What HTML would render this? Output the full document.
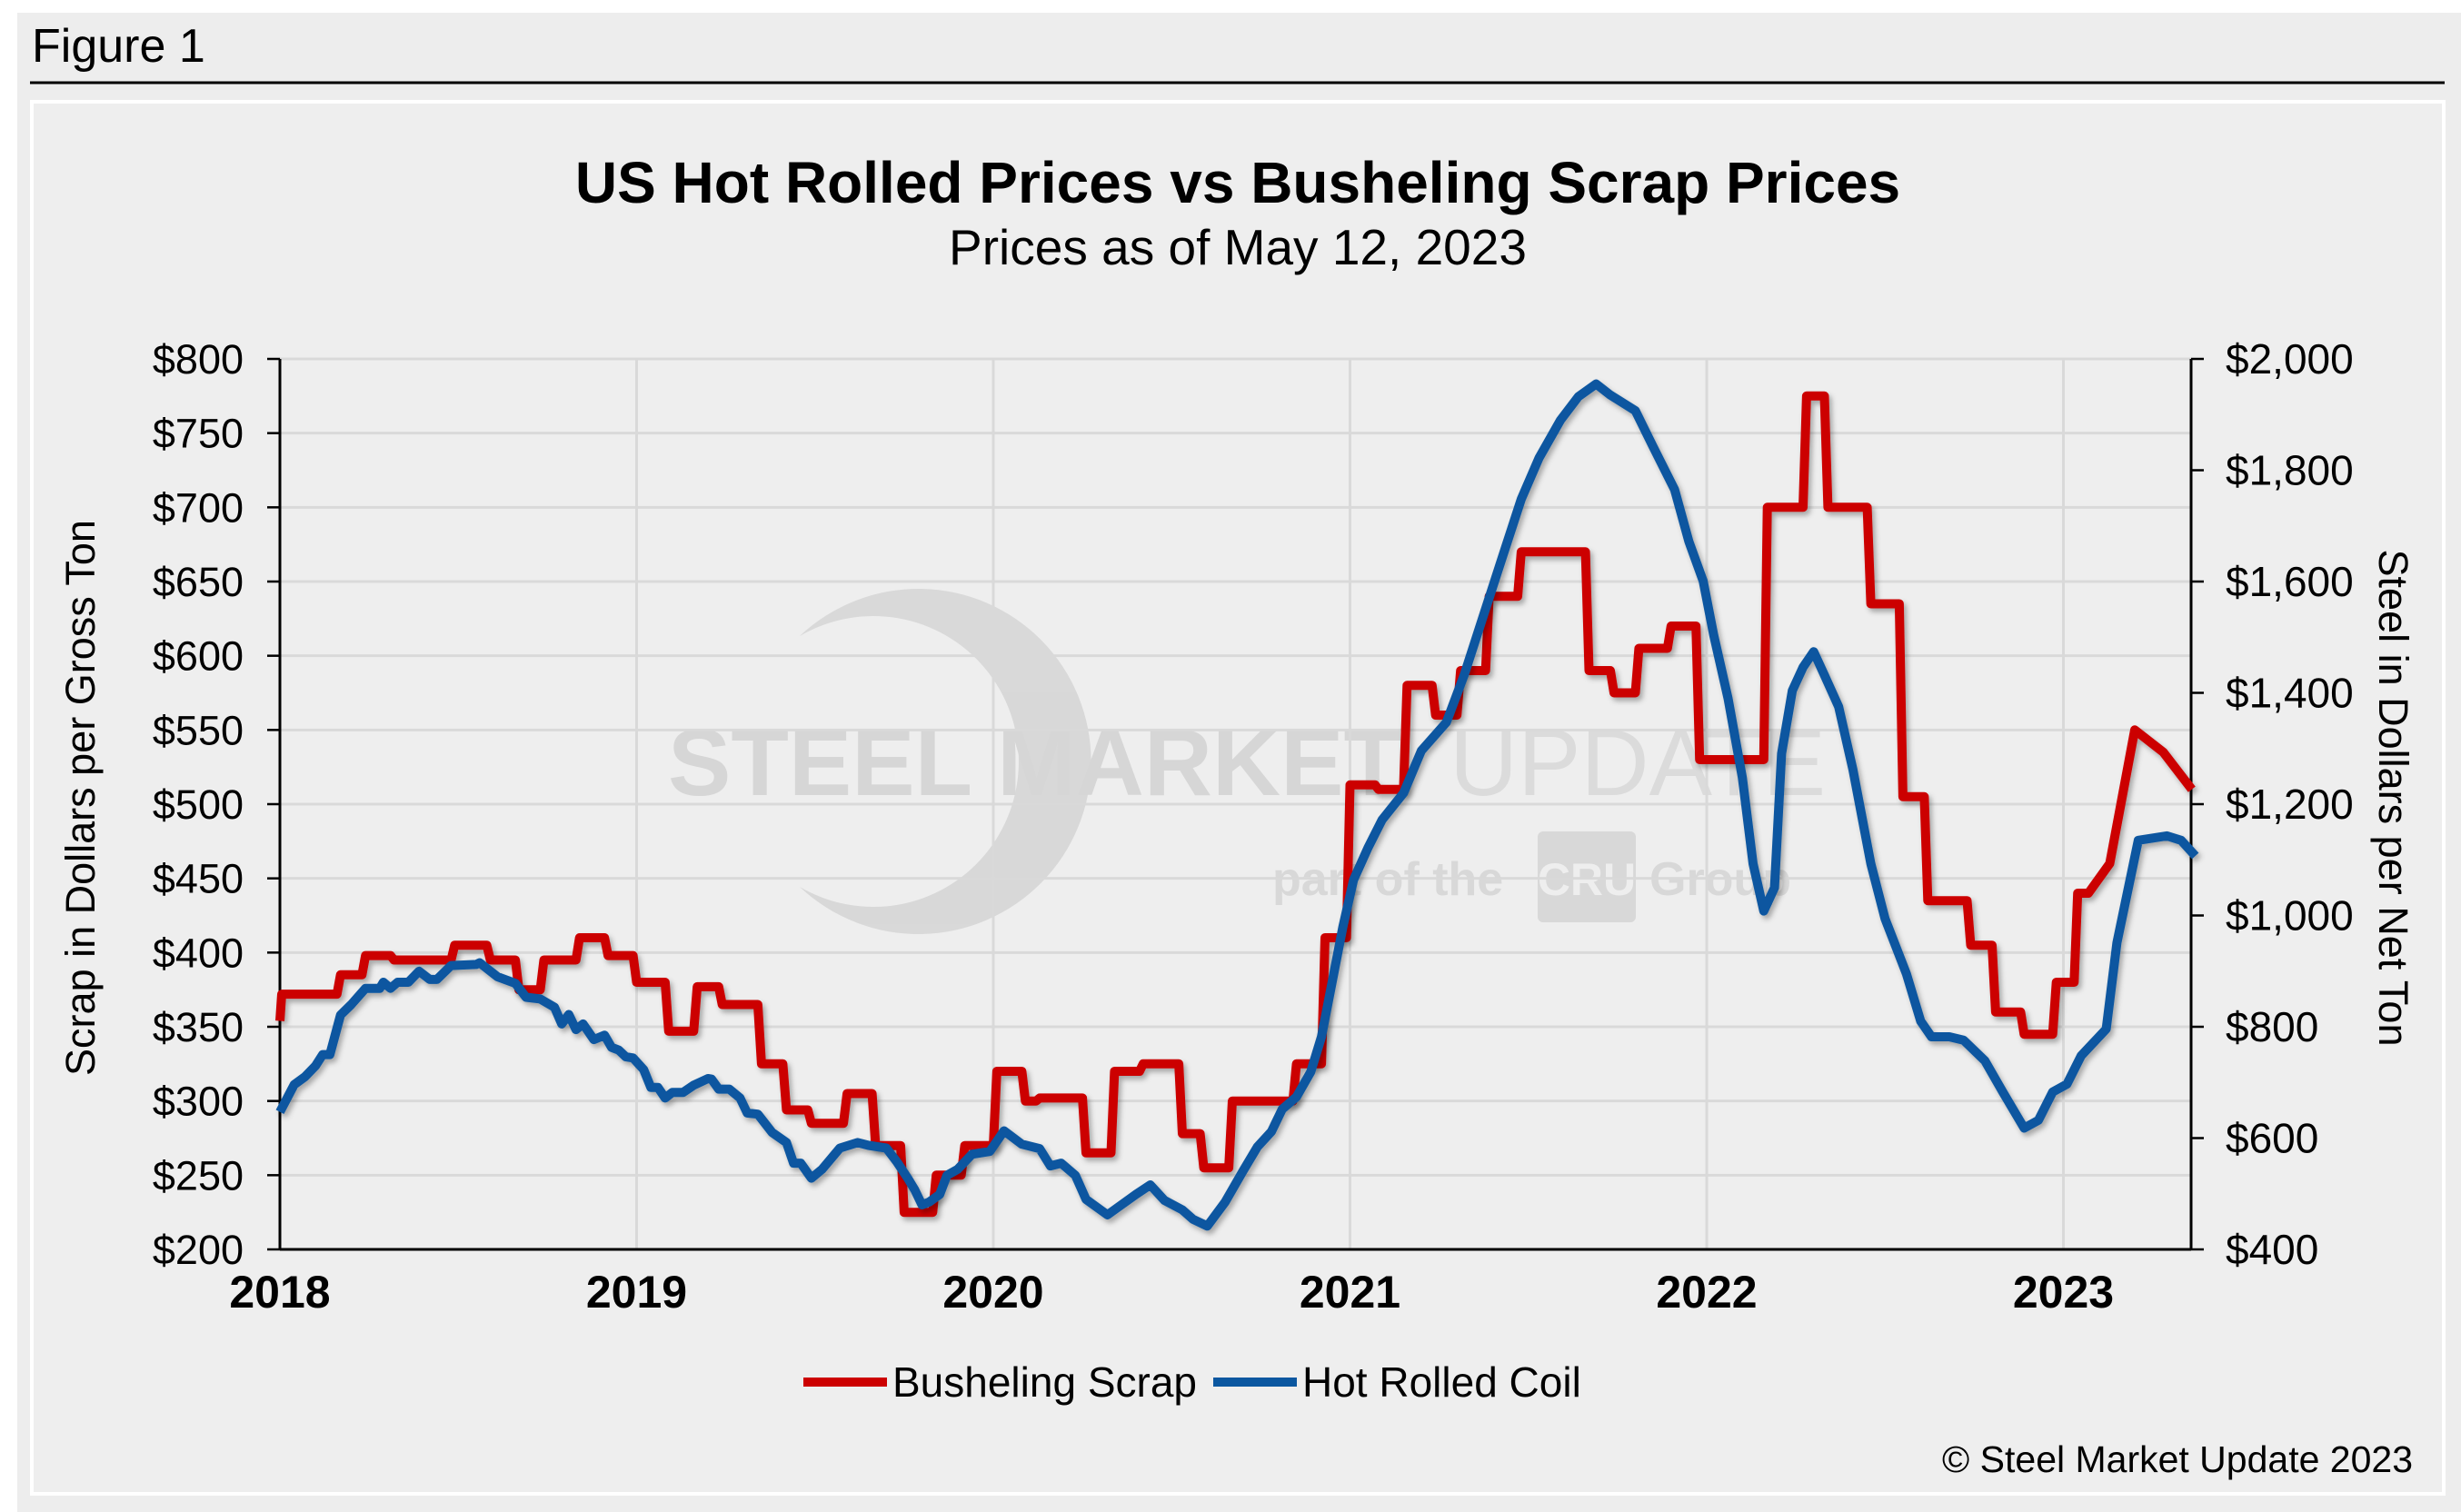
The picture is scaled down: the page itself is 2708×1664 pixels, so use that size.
<!DOCTYPE html>
<html><head><meta charset="utf-8"><style>
html,body{margin:0;padding:0;background:#fff;}
body{width:2708px;height:1664px;position:relative;overflow:hidden;font-family:"Liberation Sans",Arial,sans-serif;}
</style></head><body>
<svg id="chart" width="2708" height="1664" viewBox="0 0 2708 1664" xmlns="http://www.w3.org/2000/svg" style="position:absolute;left:0;top:0">
<defs>
<filter id="sh" x="-5%" y="-5%" width="110%" height="110%"><feDropShadow dx="3" dy="4" stdDeviation="3" flood-color="#000" flood-opacity="0.3"/></filter>
</defs>
<rect x="19" y="14" width="2689" height="1650" fill="#ededed"/>
<text x="35" y="68" font-size="52" fill="#000">Figure 1</text>
<line x1="33" y1="91" x2="2690" y2="91" stroke="#000" stroke-width="3"/>
<rect x="35" y="112" width="2654" height="1532" fill="#eeeeee" stroke="#ffffff" stroke-width="4"/>
<g opacity="0.9">
<path d="M880,700 A190,190 0 1 1 880,976 A160,160 0 1 0 880,700 Z" fill="#d6d6d6"/>
<text x="735" y="875" font-size="104" font-weight="bold" fill="#d4d4d4">STEEL MARKET</text>
<text x="1595" y="875" font-size="104" fill="#dadada">UPDATE</text>
<text x="1400" y="985" font-size="52" font-weight="bold" fill="#d6d6d6">part of the</text>
<rect x="1692" y="915" width="108" height="100" rx="6" fill="#d6d6d6"/>
<text x="1746" y="985" font-size="50" font-weight="bold" fill="#eee" text-anchor="middle">CRU</text>
<text x="1815" y="985" font-size="52" font-weight="bold" fill="#d6d6d6">Group</text>
</g>
<text x="1362" y="223" font-size="64" font-weight="bold" text-anchor="middle">US Hot Rolled Prices vs Busheling Scrap Prices</text>
<text x="1362" y="291" font-size="55" text-anchor="middle">Prices as of May 12, 2023</text>
<g id="grid"></g><g id="axes"></g><g id="series"></g>
<text transform="translate(104,878) rotate(-90)" font-size="45" text-anchor="middle">Scrap in Dollars per Gross Ton</text>
<text transform="translate(2618,878) rotate(90)" font-size="45" text-anchor="middle">Steel in Dollars per Net Ton</text>
<g>
<line x1="884" y1="1521" x2="976" y2="1521" stroke="#cc0000" stroke-width="10"/>
<text x="982" y="1537" font-size="46">Busheling Scrap</text>
<line x1="1335" y1="1521" x2="1427" y2="1521" stroke="#0b57a0" stroke-width="10"/>
<text x="1433" y="1537" font-size="46">Hot Rolled Coil</text>
</g>
<text x="2655" y="1620" font-size="41" text-anchor="end">© Steel Market Update 2023</text>
</svg>
<script>
const yearTicks = [2018, 2019, 2020, 2021, 2022, 2023];
const leftTicks = [200, 250, 300, 350, 400, 450, 500, 550, 600, 650, 700, 750, 800];
const rightTicks = [400, 600, 800, 1000, 1200, 1400, 1600, 1800, 2000];
const scrapDates = [2018.0,2018.005,2018.16,2018.17,2018.23,2018.24,2018.31,2018.32,2018.48,2018.49,2018.58,2018.59,2018.66,2018.67,2018.73,2018.74,2018.83,2018.84,2018.91,2018.92,2018.99,2019.0,2019.08,2019.09,2019.16,2019.17,2019.23,2019.24,2019.34,2019.35,2019.41,2019.42,2019.48,2019.49,2019.58,2019.59,2019.66,2019.67,2019.74,2019.75,2019.83,2019.84,2019.91,2019.92,2020.0,2020.01,2020.08,2020.09,2020.12,2020.13,2020.25,2020.26,2020.33,2020.34,2020.41,2020.42,2020.52,2020.53,2020.58,2020.59,2020.66,2020.67,2020.84,2020.85,2020.92,2020.93,2020.99,2021.0,2021.07,2021.08,2021.15,2021.16,2021.23,2021.24,2021.3,2021.31,2021.38,2021.39,2021.47,2021.48,2021.66,2021.67,2021.73,2021.74,2021.8,2021.81,2021.89,2021.9,2021.97,2021.98,2022.16,2022.17,2022.27,2022.28,2022.33,2022.34,2022.45,2022.46,2022.54,2022.55,2022.61,2022.62,2022.73,2022.74,2022.8,2022.81,2022.88,2022.89,2022.97,2022.98,2023.03,2023.04,2023.07,2023.13,2023.2,2023.28,2023.36];
const scrapValues = [354,372,372,385,385,398,398,395,395,405,405,395,395,375,375,395,395,410,410,398,398,380,380,347,347,377,377,365,365,325,325,294,294,285,285,305,305,270,270,225,225,250,250,270,270,320,320,300,300,302,302,265,265,320,320,325,325,278,278,255,255,300,300,325,325,410,410,513,513,510,510,580,580,560,560,590,590,640,640,670,670,590,590,575,575,605,605,620,620,530,530,700,700,775,775,700,700,635,635,505,505,435,435,405,405,360,360,345,345,380,380,440,440,460,550,535,510];
const hrcDates = [2018.0,2018.04,2018.07,2018.10,2018.12,2018.14,2018.17,2018.20,2018.24,2018.28,2018.29,2018.31,2018.33,2018.36,2018.39,2018.42,2018.44,2018.48,2018.55,2018.56,2018.61,2018.66,2018.69,2018.73,2018.77,2018.79,2018.81,2018.83,2018.85,2018.88,2018.91,2018.93,2018.95,2018.97,2018.99,2019.02,2019.04,2019.06,2019.08,2019.10,2019.13,2019.16,2019.20,2019.21,2019.23,2019.26,2019.29,2019.31,2019.34,2019.38,2019.42,2019.44,2019.46,2019.49,2019.52,2019.57,2019.62,2019.65,2019.70,2019.73,2019.76,2019.78,2019.80,2019.82,2019.85,2019.87,2019.90,2019.94,2019.99,2020.03,2020.08,2020.13,2020.16,2020.19,2020.23,2020.26,2020.32,2020.35,2020.40,2020.44,2020.48,2020.53,2020.56,2020.60,2020.65,2020.70,2020.74,2020.78,2020.81,2020.85,2020.89,2020.92,2020.95,2020.98,2021.01,2021.05,2021.09,2021.15,2021.20,2021.27,2021.32,2021.37,2021.42,2021.48,2021.53,2021.59,2021.64,2021.69,2021.73,2021.80,2021.85,2021.91,2021.95,2021.99,2022.02,2022.06,2022.10,2022.13,2022.16,2022.19,2022.21,2022.24,2022.27,2022.30,2022.33,2022.37,2022.41,2022.46,2022.50,2022.56,2022.60,2022.63,2022.68,2022.72,2022.78,2022.83,2022.89,2022.93,2022.97,2023.01,2023.05,2023.12,2023.15,2023.21,2023.29,2023.33,2023.37];
const hrcValues = [647,696,710,730,750,750,821,840,869,869,880,869,880,880,900,885,885,910,912,915,890,878,853,850,835,805,822,795,805,777,785,763,758,746,744,723,691,691,672,682,682,695,707,706,688,688,672,645,643,610,592,555,555,528,544,582,592,587,582,557,528,507,480,485,499,533,544,571,576,613,589,581,550,555,533,490,462,476,499,516,488,471,454,442,485,541,584,612,652,674,719,782,881,980,1064,1121,1172,1220,1296,1347,1432,1531,1630,1748,1822,1890,1932,1955,1935,1907,1842,1765,1672,1601,1503,1390,1248,1093,1008,1050,1291,1404,1446,1474,1432,1375,1262,1093,994,895,810,782,782,776,739,683,618,632,683,697,748,796,951,1135,1143,1135,1107];

const X0 = 308, YW = 392.5, YT = 395, YB = 1375, XR = 2411;
const NS = 'http://www.w3.org/2000/svg';
function xs(t){ return X0 + (t - 2018) * YW; }
function yl(v){ return YB - (v - 200) / 600 * (YB - YT); }
function yr(v){ return YB - (v - 400) / 1600 * (YB - YT); }
function mk(tag, attrs, parent){ const e = document.createElementNS(NS, tag); for (const k in attrs) e.setAttribute(k, attrs[k]); parent.appendChild(e); return e; }
const grid = document.getElementById('grid'), axes = document.getElementById('axes'), series = document.getElementById('series');

leftTicks.forEach(v => {
  const y = yl(v);
  if (v > 200) { const g = mk('line', {x1: X0, x2: XR, y1: y, y2: y, stroke: '#d9d9d9', 'stroke-width': 3}, grid);
    
     }
  const tk = mk('line', {x1: X0 - 14, x2: X0, y1: y, y2: y, stroke: '#000', 'stroke-width': 2.5}, axes);
  
  
  const t = mk('text', {x: 268, y: y + 16, 'font-size': 45, 'text-anchor': 'end'}, axes);
  t.textContent = '$' + v;
  
  
});
rightTicks.forEach(v => {
  const y = yr(v);
  const tk = mk('line', {x1: XR, x2: XR + 14, y1: y, y2: y, stroke: '#000', 'stroke-width': 2.5}, axes);
  
  
  const t = mk('text', {x: 2449, y: y + 16, 'font-size': 46}, axes);
  t.textContent = '$' + v.toLocaleString('en-US');
  
  
});
yearTicks.forEach(yv => {
  const x = xs(yv);
  if (yv > 2018) { const g = mk('line', {x1: x, x2: x, y1: YT, y2: YB, stroke: '#d9d9d9', 'stroke-width': 3}, grid);
    
     }
  const t = mk('text', {x: x, y: 1439, 'font-size': 50, 'font-weight': 'bold', 'text-anchor': 'middle'}, axes);
  t.textContent = String(yv);
  
  
});
const la = mk('line', {x1: X0, x2: X0, y1: YT, y2: YB + 1, stroke: '#000', 'stroke-width': 3}, axes);


const ra = mk('line', {x1: XR, x2: XR, y1: YT, y2: YB + 1, stroke: '#000', 'stroke-width': 3}, axes);


const xa = mk('line', {x1: X0, x2: XR, y1: YB, y2: YB, stroke: '#000', 'stroke-width': 3}, axes);



const dS = scrapDates.map((t, i) => (i ? 'L' : 'M') + xs(t).toFixed(1) + ',' + yl(scrapValues[i]).toFixed(1)).join('');
const pS = mk('path', {d: dS, fill: 'none', stroke: '#cc0000', 'stroke-width': 10, 'stroke-linejoin': 'round', filter: 'url(#sh)'}, series);


const dH = hrcDates.map((t, i) => (i ? 'L' : 'M') + xs(t).toFixed(1) + ',' + yr(hrcValues[i]).toFixed(1)).join('');
const pH = mk('path', {d: dH, fill: 'none', stroke: '#0b57a0', 'stroke-width': 10, 'stroke-linejoin': 'round', filter: 'url(#sh)'}, series);


</script>
</body></html>
